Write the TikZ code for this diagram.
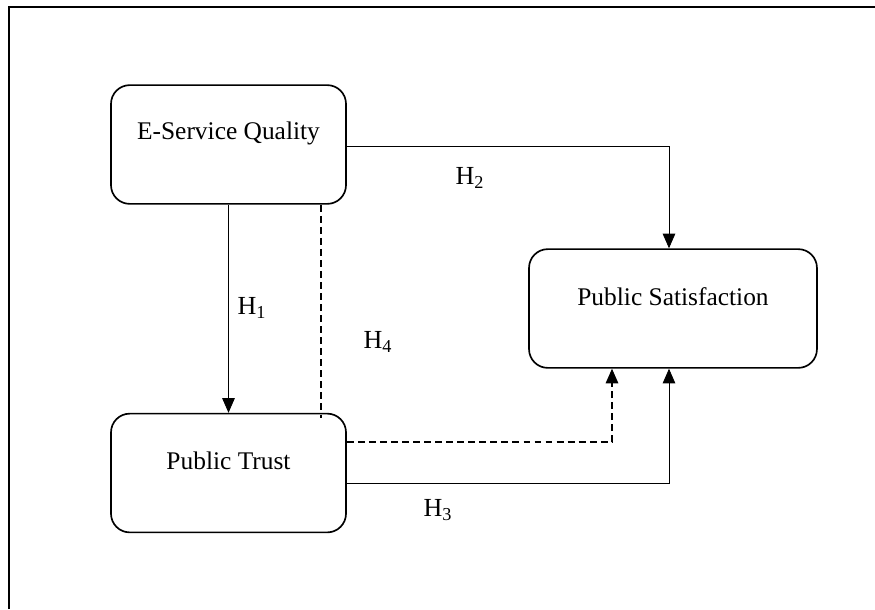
\documentclass[tikz,border=0pt]{standalone}
\usepackage{fontspec}
\setmainfont{Liberation Serif}
\usetikzlibrary{arrows.meta}
\tikzset{
  factor/.style={draw, line width=0.8pt, rounded corners=9pt, minimum height=57pt},
  path/.style={line width=0.4pt, -{Triangle[length=7pt,width=6pt]}},
  mediated/.style={line width=0.6pt, dash pattern=on 3.3pt off 2pt},
  hyp/.style={font=\fontsize{12.5}{15}\selectfont}
}
\begin{document}
\begin{tikzpicture}[x=0.48pt, y=-0.48pt, font=\fontsize{12.2}{15}\selectfont]
  \useasboundingbox (0,0) rectangle (875,609);
  % outer frame
  \draw[line width=0.5pt] (9,609) -- (9,7) -- (875,7);

  \node[factor, minimum width=112.8pt] (esq) at (228.5,144.5) {};
  \node[factor, minimum width=138.2pt] (ps) at (673,308.5) {};
  \node[factor, minimum width=112.8pt] (pt) at (228.5,473) {};
  \node (esqname) at (228.5,133) {E-Service Quality};
  \node (psname) at (673,297) {Public Satisfaction};
  \node (ptname) at (228.5,461) {Public Trust};

  \coordinate (h2) at (669,146);
  \coordinate (h3) at (669,483);
  \coordinate (h4a) at (321,0);
  \coordinate (h4b) at (612,442);

  \draw[path] (esq.south) -- (pt.north);
  \draw[path] (esq.east |- h2) -| (h2 |- ps.north);
  \draw[path] (pt.east |- h3) -| (h3 |- ps.south);
  \draw[mediated] (esq.south -| h4a) -- ([yshift=-2.5pt]pt.north -| h4a);
  \draw[mediated, -{Triangle[length=7pt,width=6pt]}] (pt.east |- h4b) -| (h4b |- ps.south);

  \node[hyp] (H1) at (252,308) {H\textsubscript{1}};
  \node[hyp] (H2) at (470,178) {H\textsubscript{2}};
  \node[hyp] (H3) at (438,510) {H\textsubscript{3}};
  \node[hyp] (H4) at (378,342) {H\textsubscript{4}};
\end{tikzpicture}
\end{document}
